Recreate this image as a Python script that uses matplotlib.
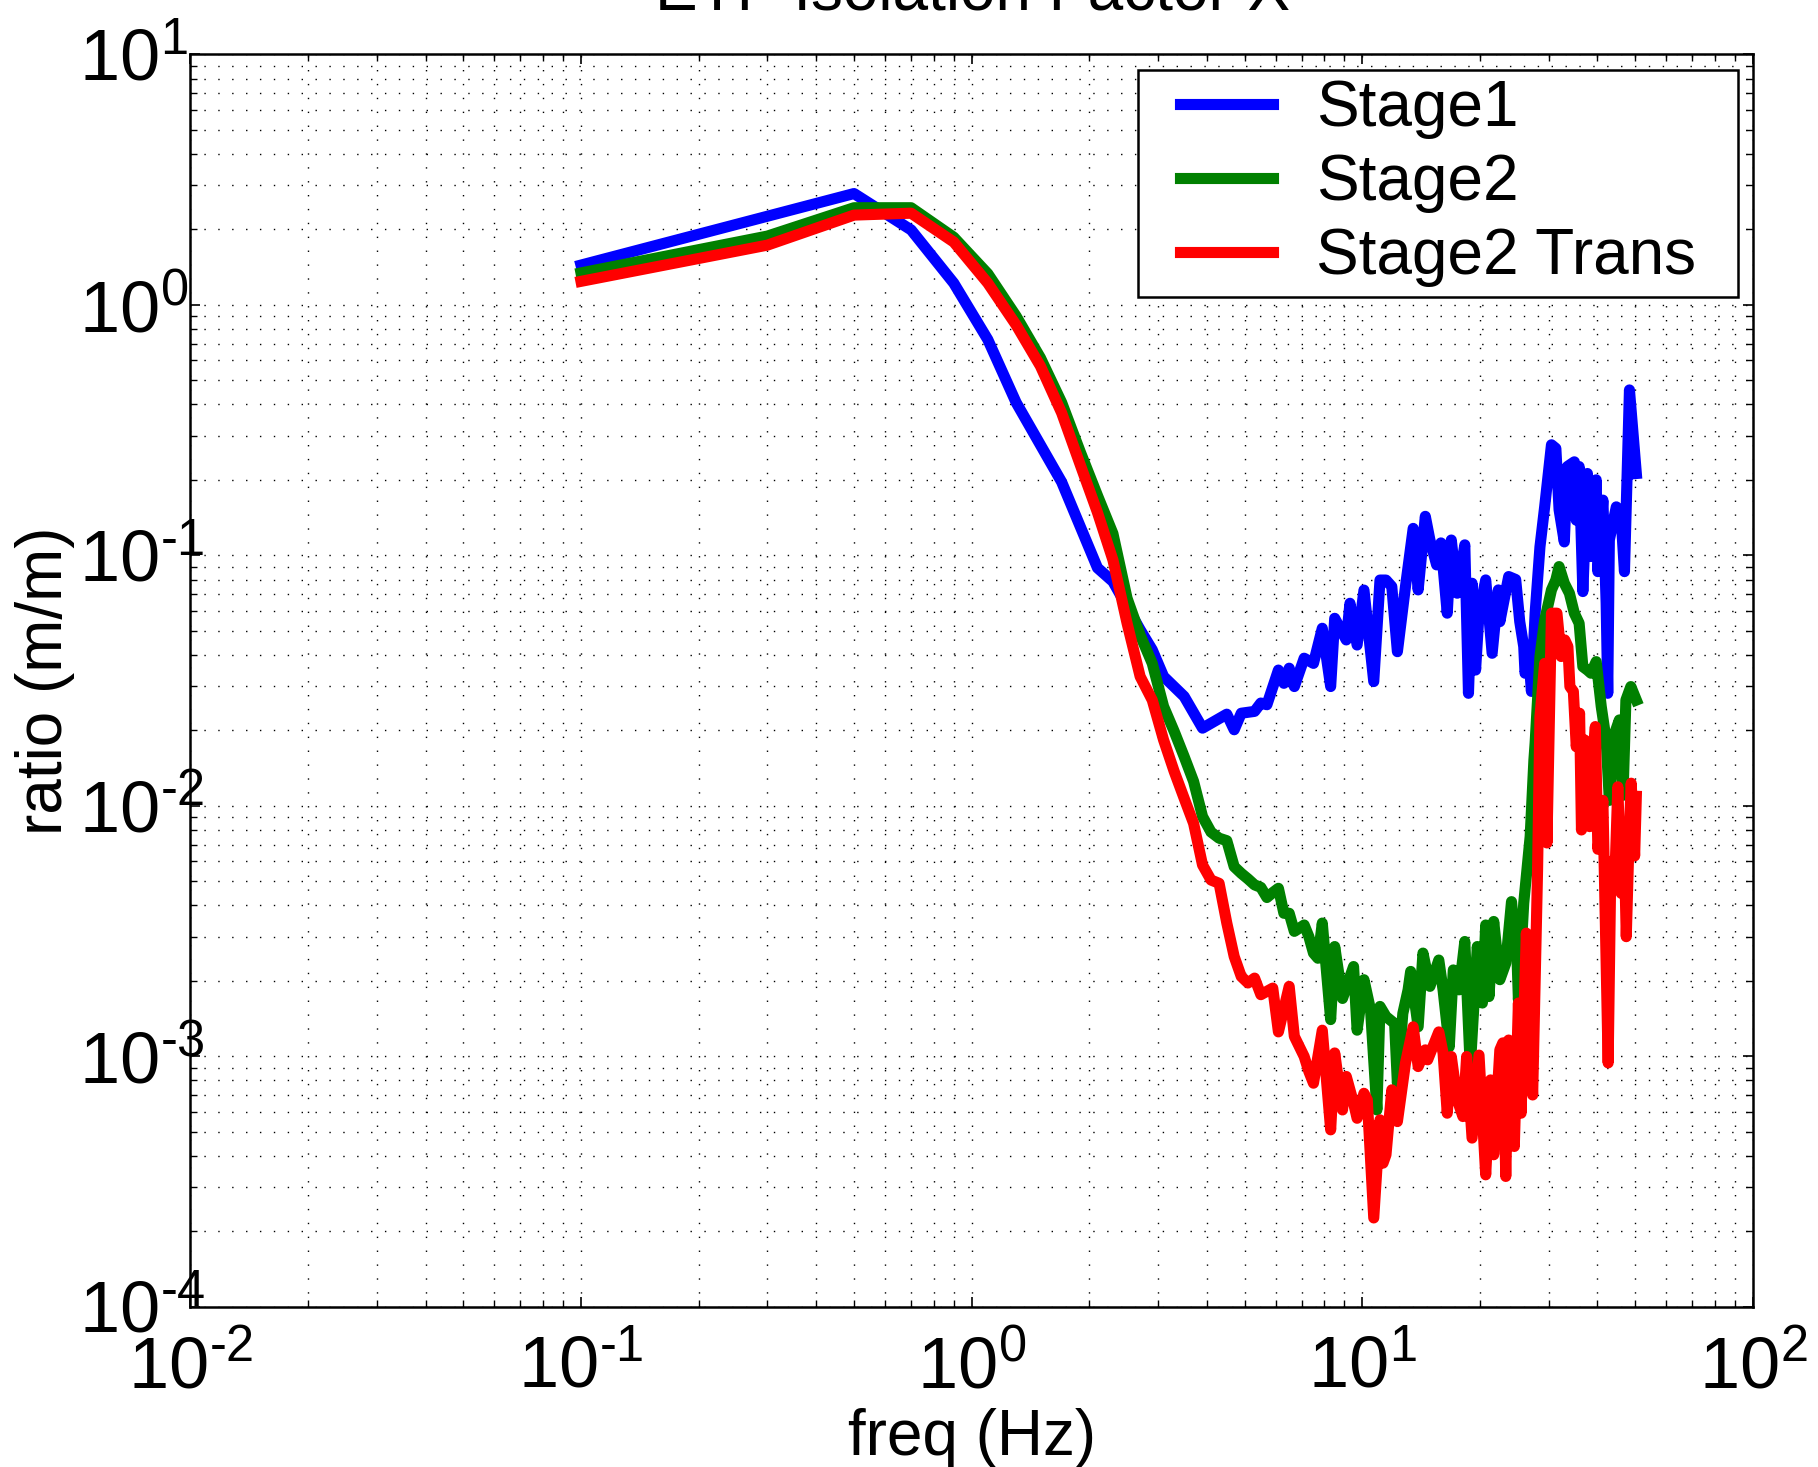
import numpy as np
import matplotlib
matplotlib.use("Agg")
import matplotlib.pyplot as plt
from matplotlib.legend_handler import HandlerLine2D

plt.rcParams['font.family'] = ['Liberation Sans', 'DejaVu Sans']
plt.rcParams['mathtext.fontset'] = 'custom'
plt.rcParams['mathtext.rm'] = 'Liberation Sans'
plt.rcParams['mathtext.default'] = 'regular'

# Stage1
f_stage1 = [0.1, 0.5, 0.7, 0.9, 1.1, 1.3, 1.7, 2.1, 2.3, 2.7,
            2.9, 3.1, 3.5, 3.9, 4.5, 4.7, 4.9, 5.3, 5.5, 5.7,
            6.1, 6.3, 6.5, 6.7, 7.1, 7.5, 7.9, 8.3, 8.5, 9.1,
            9.3, 9.7, 10.1, 10.7, 11.1, 11.5, 11.9, 12.3, 12.9, 13.5,
            13.9, 14.5, 14.9, 15.5, 15.9, 16.5, 16.9, 17.5, 18.3, 18.7,
            19.1, 19.5, 19.9, 20.7, 21.5, 22.3, 22.5, 23.7, 24.7, 25.3,
            25.9, 26.1, 26.7, 27.1, 27.7, 28.5, 29.3, 30.5, 31.3, 31.9,
            32.9, 33.5, 34.9, 35.3, 35.9, 36.7, 37.7, 38.5, 39.7, 40.1,
            41.3, 42.1, 42.5, 42.9, 44.7, 45.9, 46.9, 48.3, 50.3]
stage1 = [1.44, 2.78, 1.99, 1.22, 0.726, 0.407, 0.196, 0.089, 0.0785, 0.0504,
          0.0419, 0.0328, 0.0273, 0.0204, 0.0232, 0.0201, 0.0234, 0.0238, 0.0257, 0.0253,
          0.0348, 0.0308, 0.0354, 0.0299, 0.0388, 0.037, 0.0511, 0.0299, 0.056, 0.0459,
          0.0643, 0.0438, 0.0726, 0.0313, 0.0796, 0.0796, 0.075, 0.0412, 0.075, 0.128,
          0.0727, 0.143, 0.115, 0.0915, 0.112, 0.0587, 0.115, 0.0705, 0.11, 0.0281,
          0.0773, 0.0348, 0.0587, 0.0797, 0.0406, 0.0727, 0.0543, 0.0822, 0.080, 0.0543,
          0.0432, 0.0338, 0.0394, 0.0286, 0.0587, 0.108, 0.156, 0.276, 0.267, 0.152,
          0.113, 0.226, 0.236, 0.138, 0.226, 0.0716, 0.212, 0.0988, 0.2, 0.086,
          0.166, 0.0643, 0.0281, 0.115, 0.156, 0.147, 0.086, 0.457, 0.212]

# Stage2
f_stage2 = [0.1, 0.3, 0.5, 0.7, 0.9, 1.1, 1.3, 1.5, 1.7, 1.9,
            2.1, 2.3, 2.5, 2.7, 2.9, 3.1, 3.3, 3.5, 3.7, 3.9,
            4.1, 4.3, 4.5, 4.7, 4.9, 5.1, 5.3, 5.5, 5.7, 5.9,
            6.1, 6.3, 6.5, 6.7, 7.1, 7.3, 7.5, 7.7, 7.9, 8.3,
            8.5, 8.9, 9.5, 9.7, 10.1, 10.5, 10.9, 11.1, 11.5, 12.1,
            12.3, 12.7, 13.1, 13.3, 13.9, 14.3, 14.9, 15.7, 16.1, 16.7,
            17.1, 17.7, 18.3, 18.9, 19.7, 20.3, 20.7, 21.1, 21.7, 22.5,
            23.3, 24.1, 24.9, 25.1, 25.9, 26.9, 27.5, 27.7, 28.5, 29.3,
            30.5, 31.3, 31.9, 32.9, 33.9, 34.9, 35.9, 36.7, 37.7, 38.5,
            39.7, 40.9, 42.1, 42.9, 44.3, 45.5, 46.5, 47.3, 48.7, 50.3]
stage2 = [1.34, 1.88, 2.44, 2.44, 1.86, 1.33, 0.90, 0.614, 0.407, 0.257,
          0.173, 0.122, 0.0673, 0.048, 0.037, 0.0249, 0.0198, 0.0157, 0.0125, 0.00905,
          0.00785, 0.00742, 0.00725, 0.00571, 0.00537, 0.0051, 0.00483, 0.00472, 0.0043, 0.0045,
          0.00468, 0.00372, 0.00372, 0.00315, 0.00334, 0.003, 0.00258, 0.00246, 0.0034, 0.0014,
          0.00274, 0.0017, 0.00228, 0.00127, 0.00202, 0.00153, 0.00061, 0.00158, 0.00144, 0.00135,
          0.00078, 0.00148, 0.00184, 0.00218, 0.00131, 0.00258, 0.0019, 0.00242, 0.00184, 0.00109,
          0.00221, 0.00184, 0.00287, 0.0009, 0.00274, 0.00163, 0.00334, 0.00173, 0.00345, 0.00202,
          0.00235, 0.00414, 0.00246, 0.00168, 0.00408, 0.00753, 0.0152, 0.0178, 0.0394, 0.055,
          0.0727, 0.0797, 0.0901, 0.0773, 0.0705, 0.0587, 0.0535, 0.0359, 0.0348, 0.0338,
          0.0376, 0.0249, 0.0183, 0.0105, 0.0195, 0.022, 0.011, 0.0264, 0.0299, 0.0264]

# Stage2 Trans
f_trans = [0.1, 0.3, 0.5, 0.7, 0.9, 1.1, 1.3, 1.5, 1.7, 1.9,
           2.1, 2.3, 2.5, 2.7, 2.9, 3.1, 3.3, 3.5, 3.7, 3.9,
           4.1, 4.3, 4.5, 4.7, 4.9, 5.1, 5.3, 5.5, 5.9, 6.1,
           6.5, 6.7, 7.1, 7.3, 7.5, 7.9, 8.3, 8.5, 8.9, 9.1,
           9.5, 9.7, 10.1, 10.3, 10.7, 11.1, 11.3, 11.5, 11.9, 12.3,
           12.9, 13.5, 13.9, 14.5, 14.7, 15.7, 16.1, 16.5, 16.9, 17.5,
           18.1, 18.5, 19.1, 19.9, 20.7, 21.3, 21.7, 22.5, 22.9, 23.3,
           23.7, 24.5, 25.1, 25.5, 26.3, 27.3, 28.1, 28.5, 29.3, 29.7,
           30.5, 31.5, 32.3, 33.0, 33.6, 34.0, 34.7, 35.3, 36.0, 36.4,
           37.1, 38.2, 38.9, 39.5, 40.1, 41.3, 42.6, 43.3, 44.3, 45.1,
           46.0, 46.7, 47.4, 48.2, 48.8, 49.8, 50.3]
trans = [1.24, 1.73, 2.28, 2.32, 1.78, 1.22, 0.83, 0.569, 0.37, 0.228,
         0.148, 0.0957, 0.0535, 0.0328, 0.0264, 0.0183, 0.0137, 0.0107, 0.0085, 0.0058,
         0.00505, 0.0049, 0.0034, 0.0025, 0.00208, 0.00196, 0.00205, 0.00176, 0.00187, 0.00125,
         0.0019, 0.0012, 0.000997, 0.000868, 0.00078, 0.00127, 0.000508, 0.00103, 0.00061, 0.00083,
         0.00065, 0.000565, 0.000711, 0.00067, 0.000226, 0.000557, 0.000374, 0.000404, 0.000734, 0.000548,
         0.000938, 0.00131, 0.000909, 0.00106, 0.000967, 0.00125, 0.00103, 0.000592, 0.000997, 0.00067,
         0.000574, 0.000997, 0.000471, 0.00101, 0.000336, 0.000804, 0.000404, 0.00106, 0.00113, 0.000331,
         0.00116, 0.000436, 0.00163, 0.000592, 0.0031, 0.0007, 0.0055, 0.0227, 0.037, 0.0071,
         0.0587, 0.0587, 0.0394, 0.0459, 0.0432, 0.0299, 0.0286, 0.0172, 0.0234, 0.008,
         0.0183, 0.00825, 0.0155, 0.0207, 0.0067, 0.0105, 0.00094, 0.006, 0.00506, 0.0119,
         0.00447, 0.0085, 0.003, 0.0075, 0.0123, 0.0063, 0.0109]

xticks = [1e-2, 1e-1, 1e0, 1e1, 1e2]
xticklabels = ['$10^{\u20102}$', '$10^{\u20101}$', '$10^{0}$', '$10^{1}$', '$10^{2}$']
yticks = [1e-4, 1e-3, 1e-2, 1e-1, 1e0, 1e1]
yticklabels = ['$10^{\u20104}$', '$10^{\u20103}$', '$10^{\u20102}$', '$10^{\u20101}$',
               '$10^{0}$', '$10^{1}$']

fs = 46
tick_fs = 52
lw = 8

fig = plt.figure(figsize=(18.18, 14.67), dpi=100)
ax = fig.add_axes([0.1047, 0.1093, 0.8595, 0.8537])

ax.plot(f_stage1, stage1, color=(0, 0, 1), lw=lw, label='Stage1')
ax.plot(f_stage2, stage2, color=(0, 0.5, 0), lw=lw, label='Stage2')
ax.plot(f_trans, trans, color=(1, 0, 0), lw=lw, label='Stage2 Trans\u2002')

ax.set_xscale('log')
ax.set_yscale('log')
ax.set_xlim(1e-2, 1e2)
ax.set_ylim(1e-4, 1e1)

ax.grid(True, which='both', color='black', linestyle=(0, (1, 9)), linewidth=1.0)
ax.set_xticks(xticks)
ax.set_xticklabels(xticklabels)
ax.set_yticks(yticks)
ax.set_yticklabels(yticklabels)
ax.tick_params(which='both', direction='in', top=True, right=True, labelsize=tick_fs)
ax.tick_params(which='major', length=7, width=1.2)
ax.tick_params(which='minor', length=5, width=1.0)
ax.tick_params(axis='x', pad=20)
# MATLAB-style: y tick labels start at the same x
ax.tick_params(axis='y', pad=80)
for lbl in ax.get_yticklabels():
    lbl.set_horizontalalignment('left')
for s in ax.spines.values():
    s.set_linewidth(1.8)

ax.set_xlabel('freq (Hz)', fontsize=fs, labelpad=4)
ax.set_ylabel('ratio (m/m)', fontsize=fs)
ax.yaxis.set_label_coords(-0.074, 0.5)

fig.text(0.5347, 1 - 9 / 1467, 'ETF Isolation Factor X', fontsize=fs,
         ha='center', va='baseline')

leg = ax.legend(loc='upper right', fontsize=fs, frameon=True, fancybox=False,
                framealpha=1, edgecolor='black', borderaxespad=0.24,
                handlelength=1.96, handletextpad=0.68, labelspacing=0.22,
                borderpad=0.15,
                handler_map={plt.Line2D: HandlerLine2D(xpad=0.51)})
leg.get_frame().set_linewidth(1.8)

plt.savefig('out.png', dpi=100)
